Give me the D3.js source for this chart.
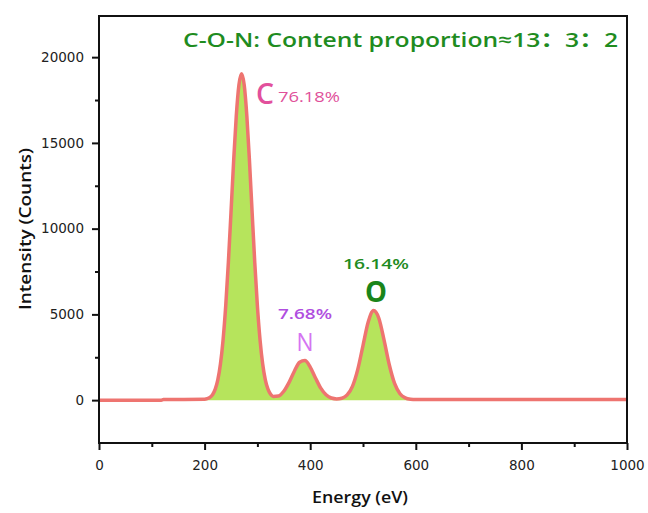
<!DOCTYPE html>
<html>
<head>
<meta charset="utf-8">
<script src="https://cdn.jsdelivr.net/npm/d3@7"></script>
<style>
  body { margin: 0; background: #fff; }
  svg { display: block; }
</style>
</head>
<body>
<svg width="648" height="513"></svg>
<script>
// spectrum (eV, counts)
const energy = [0, 118, 122, 200, 205, 210, 215, 220, 225, 230, 235, 240, 245, 250, 255, 260, 265, 270, 275, 280, 285, 290, 295, 300, 305, 310, 315, 320, 325, 330, 340, 350, 360, 370, 380, 390, 400, 410, 420, 430, 440, 450, 460, 470, 480, 490, 500, 510, 520, 530, 540, 550, 560, 570, 580, 590, 600, 900, 1000]
const counts = [0, 0, 30, 51, 85, 160, 318, 625, 1180, 2101, 3513, 5490, 8023, 10950, 13944, 16575, 18383, 19030, 18383, 16575, 13944, 10950, 8023, 5490, 3513, 2101, 1180, 639, 347, 218, 239, 520, 1036, 1687, 2206, 2307, 1929, 1293, 699, 313, 125, 73, 112, 303, 803, 1779, 3184, 4564, 5224, 4774, 3483, 2034, 957, 372, 130, 53, 34, 30, 30]

const xTicks = [0, 200, 400, 600, 800, 1000]
const xMinor = [100, 300, 500, 700, 900]
const yTicks = [0, 5000, 10000, 15000, 20000]
const yMinor = [2500, 7500, 12500, 17500]

const title = 'C-O-N: Content proportion≈13：3：2'
const elements = ['C', 'N', 'O']
const percents = ['76.18%', '7.68%', '16.14%']

let svg = d3.select('svg')
let pLeft = 99, pTop = 16, pRight = 627, pBottom = 443

let x = d3.scaleLinear().domain([0, 1000]).range([pLeft, pRight])
let y = d3.scaleLinear().domain([-2500, 22400]).range([pBottom, pTop])

let pts = energy.map((e, i) => ({ e: e, c: counts[i] }))

svg.append('path')
  .datum(pts)
  .attr('fill', '#b6e45c')
  .attr('d', d3.area().x(d => x(d.e)).y0(y(0)).y1(d => y(d.c)).curve(d3.curveMonotoneX))

svg.append('path')
  .datum(pts)
  .attr('fill', 'none')
  .attr('stroke', '#ee7470')
  .attr('stroke-width', 3.5)
  .attr('stroke-linejoin', 'round')
  .attr('d', d3.line().x(d => x(d.e)).y(d => y(d.c)).curve(d3.curveMonotoneX))

// frame
svg.append('rect')
  .attr('x', pLeft).attr('y', pTop)
  .attr('width', pRight - pLeft).attr('height', pBottom - pTop)
  .attr('fill', 'none').attr('stroke', '#111').attr('stroke-width', 2)

let tickFont = g => g.selectAll('text')
  .attr('font-family', 'DejaVu Sans').attr('font-size', 13.5).attr('fill', '#222')

let xAxis = svg.append('g')
  .attr('transform', `translate(0, ${pBottom})`)
  .call(d3.axisBottom(x).tickValues(xTicks).tickFormat(d3.format('d')).tickSize(7).tickPadding(10))
xAxis.call(tickFont)
xAxis.select('.domain').remove()
svg.append('g')
  .attr('transform', `translate(0, ${pBottom})`)
  .call(d3.axisBottom(x).tickValues(xMinor).tickFormat('').tickSize(4))
  .select('.domain').remove()

let yAxis = svg.append('g')
  .attr('transform', `translate(${pLeft}, 0)`)
  .call(d3.axisLeft(y).tickValues(yTicks).tickFormat(d3.format('d')).tickSize(7).tickPadding(8))
yAxis.call(tickFont)
yAxis.select('.domain').remove()
svg.append('g')
  .attr('transform', `translate(${pLeft}, 0)`)
  .call(d3.axisLeft(y).tickValues(yMinor).tickFormat('').tickSize(4))
  .select('.domain').remove()

svg.selectAll('.tick line').attr('stroke', '#111').attr('stroke-width', 2)

// stretched text helper, the picture's lettering is wide
let label = (txt, px, py, len, size, weight, color, anchor) => svg.append('text')
  .text(txt)
  .attr('x', px).attr('y', py)
  .attr('text-anchor', anchor || 'start')
  .attr('font-family', 'Open Sans, Noto Sans CJK SC')
  .attr('font-size', size).attr('font-weight', weight)
  .attr('fill', color)
  .attr('textLength', len).attr('lengthAdjust', 'spacingAndGlyphs')

// axis titles
label('Energy (eV)', 360, 503, 96, 17, 600, '#111', 'middle')
label('Intensity (Counts)', 0, 0, 162, 17, 600, '#111', 'middle')
  .attr('x', null).attr('y', null)
  .attr('transform', 'translate(31, 229) rotate(-90)')

// title
label(title, 183, 47, 435, 20, 600, '#1f8c1f')

// peak labels
label(elements[0], 256, 104, 18, 29, 600, '#e2509c')
label(percents[0], 278, 102, 62, 15, 400, '#e0509a')

label(percents[1], 278, 319, 54, 14, 600, '#b04ee0')
label(elements[1], 305, 351, 17, 26, 400, '#d574f2', 'middle')

label(percents[2], 343, 269, 66, 15, 600, '#1f8c1f')
label(elements[2], 376, 302, 22, 28, 700, '#1a851a', 'middle')
</script>
</body>
</html>
